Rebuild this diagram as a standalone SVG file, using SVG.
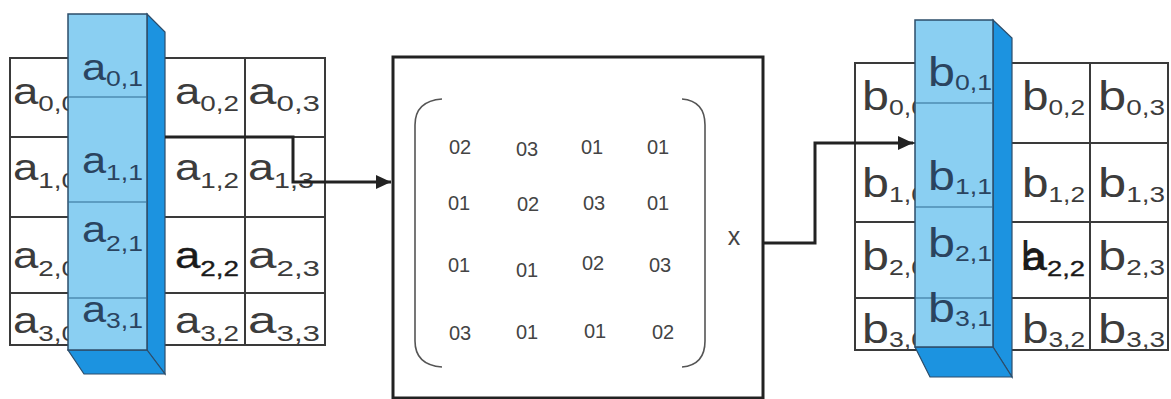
<svg xmlns="http://www.w3.org/2000/svg" width="1171" height="399" viewBox="0 0 1171 399">
<style>
.grid{fill:none;stroke:#3a3a3a;stroke-width:2}
.lbl{font-family:"Liberation Sans",Arial,sans-serif;font-size:36px;fill:#3c3c3c}
.lblb{font-family:"Liberation Sans",Arial,sans-serif;font-size:40px;fill:#3c3c3c}
.bar{fill:#2a4460}
.sub{font-size:22px}
.front{fill:#8ACFF2;stroke:#2d4d6a;stroke-width:1.5}
.face{fill:#1C93E0;stroke:#2d4d6a;stroke-width:1.2}
.div{stroke:#2f6d92;stroke-width:1.2}
.num{font-family:"Liberation Sans",Arial,sans-serif;font-size:20px;fill:#444;text-anchor:middle}
.conn{fill:none;stroke:#222;stroke-width:3}
.brk{fill:none;stroke:#555;stroke-width:1.6}
</style>
<defs>
<marker id="ah" markerUnits="userSpaceOnUse" markerWidth="16" markerHeight="16" refX="15" refY="8" orient="auto">
<path d="M0,1 L15,8 L0,15 z" fill="#222"/>
</marker>
</defs>
<rect width="1171" height="399" fill="#fff"/>

<g id="matrixA">
<rect class="grid" x="10" y="58" width="315" height="287"/>
<path class="grid" d="M10,137H325M10,217H325M10,293H325M245,58V345"/>
<text class="lbl" x="13" y="104" textLength="64" lengthAdjust="spacingAndGlyphs">a<tspan class="sub" dy="7">0,0</tspan></text>
<text class="lbl" x="175" y="104" textLength="64" lengthAdjust="spacingAndGlyphs">a<tspan class="sub" dy="7">0,2</tspan></text>
<text class="lbl" x="248" y="104" textLength="72" lengthAdjust="spacingAndGlyphs">a<tspan class="sub" dy="7">0,3</tspan></text>
<text class="lbl" x="13" y="180" textLength="64" lengthAdjust="spacingAndGlyphs">a<tspan class="sub" dy="8">1,0</tspan></text>
<text class="lbl" x="175" y="180" textLength="64" lengthAdjust="spacingAndGlyphs">a<tspan class="sub" dy="8">1,2</tspan></text>
<text class="lbl" x="248" y="180" textLength="66" lengthAdjust="spacingAndGlyphs">a<tspan class="sub" dy="8">1,3</tspan></text>
<text class="lbl" x="13" y="268" textLength="64" lengthAdjust="spacingAndGlyphs">a<tspan class="sub" dy="8">2,0</tspan></text>
<text class="lbl" x="175" y="268" textLength="64" lengthAdjust="spacingAndGlyphs" style="fill:#1a1a1a;stroke:#1a1a1a;stroke-width:0.35">a<tspan class="sub" dy="8">2,2</tspan></text>
<text class="lbl" x="248" y="268" textLength="72" lengthAdjust="spacingAndGlyphs">a<tspan class="sub" dy="8">2,3</tspan></text>
<text class="lbl" x="13" y="333" textLength="64" lengthAdjust="spacingAndGlyphs">a<tspan class="sub" dy="8">3,0</tspan></text>
<text class="lbl" x="175" y="333" textLength="64" lengthAdjust="spacingAndGlyphs">a<tspan class="sub" dy="8">3,2</tspan></text>
<text class="lbl" x="248" y="333" textLength="72" lengthAdjust="spacingAndGlyphs">a<tspan class="sub" dy="8">3,3</tspan></text>
</g>

<g id="columnA">
<polygon class="face" points="147,14 165,32 165,374 147,350"/>
<polygon class="face" points="68,350 147,350 165,374 84,374"/>
<rect class="front" x="68" y="14" width="79" height="336"/>
<path class="div" d="M68,97H147M68,202H147M68,298H147"/>
<text class="lbl bar" x="82" y="80" textLength="61" lengthAdjust="spacingAndGlyphs">a<tspan class="sub" dy="6">0,1</tspan></text>
<text class="lbl bar" x="82" y="173" textLength="61" lengthAdjust="spacingAndGlyphs">a<tspan class="sub" dy="7">1,1</tspan></text>
<text class="lbl bar" x="82" y="242" textLength="61" lengthAdjust="spacingAndGlyphs">a<tspan class="sub" dy="9">2,1</tspan></text>
<text class="lbl bar" x="82" y="322" textLength="61" lengthAdjust="spacingAndGlyphs">a<tspan class="sub" dy="6">3,1</tspan></text>
</g>

<g id="mixColumns">
<rect x="393" y="57" width="370" height="341" fill="#fff" stroke="#222" stroke-width="3"/>
<path class="brk" d="M442,99 Q415,101 415,125 L415,341 Q415,365 442,367"/>
<path class="brk" d="M682,99 Q705,101 705,125 L705,341 Q705,365 682,367"/>
<text class="num" x="460" y="154">02</text>
<text class="num" x="527" y="156">03</text>
<text class="num" x="592" y="154">01</text>
<text class="num" x="658" y="154">01</text>
<text class="num" x="459" y="210">01</text>
<text class="num" x="528" y="211">02</text>
<text class="num" x="594" y="210">03</text>
<text class="num" x="658" y="210">01</text>
<text class="num" x="459" y="272">01</text>
<text class="num" x="527" y="277">01</text>
<text class="num" x="593" y="270">02</text>
<text class="num" x="660" y="272">03</text>
<text class="num" x="460" y="340">03</text>
<text class="num" x="527" y="339">01</text>
<text class="num" x="595" y="338">01</text>
<text class="num" x="663" y="339">02</text>
<text class="num" x="734" y="245" style="font-size:25px">x</text>
</g>

<g id="matrixB">
<rect class="grid" x="855" y="63" width="313" height="287"/>
<path class="grid" d="M855,143H1168M855,222H1168M855,298H1168M1090,63V350"/>
<text class="lblb" x="862" y="110" textLength="64" lengthAdjust="spacingAndGlyphs">b<tspan class="sub" dy="5">0,0</tspan></text>
<text class="lblb" x="1022" y="110" textLength="63" lengthAdjust="spacingAndGlyphs">b<tspan class="sub" dy="5">0,2</tspan></text>
<text class="lblb" x="1098" y="110" textLength="67" lengthAdjust="spacingAndGlyphs">b<tspan class="sub" dy="5">0,3</tspan></text>
<text class="lblb" x="862" y="197" textLength="64" lengthAdjust="spacingAndGlyphs">b<tspan class="sub" dy="5">1,0</tspan></text>
<text class="lblb" x="1022" y="197" textLength="63" lengthAdjust="spacingAndGlyphs">b<tspan class="sub" dy="5">1,2</tspan></text>
<text class="lblb" x="1098" y="197" textLength="67" lengthAdjust="spacingAndGlyphs">b<tspan class="sub" dy="5">1,3</tspan></text>
<text class="lblb" x="862" y="270" textLength="64" lengthAdjust="spacingAndGlyphs">b<tspan class="sub" dy="5">2,0</tspan></text>
<text class="lblb" x="1021" y="270" style="fill:#222">b</text>
<text class="lbl" x="1022" y="270" textLength="63" lengthAdjust="spacingAndGlyphs" style="fill:#1a1a1a;stroke:#1a1a1a;stroke-width:0.35">a<tspan class="sub" dy="6">2,2</tspan></text>
<text class="lblb" x="1098" y="270" textLength="67" lengthAdjust="spacingAndGlyphs">b<tspan class="sub" dy="5">2,3</tspan></text>
<text class="lblb" x="862" y="343" textLength="64" lengthAdjust="spacingAndGlyphs">b<tspan class="sub" dy="4">3,0</tspan></text>
<text class="lblb" x="1022" y="343" textLength="63" lengthAdjust="spacingAndGlyphs">b<tspan class="sub" dy="4">3,2</tspan></text>
<text class="lblb" x="1098" y="343" textLength="67" lengthAdjust="spacingAndGlyphs">b<tspan class="sub" dy="4">3,3</tspan></text>
</g>

<g id="columnB">
<polygon class="face" points="993,20 1012,38 1012,377 993,347"/>
<polygon class="face" points="915,347 993,347 1012,377 930,377"/>
<rect class="front" x="915" y="20" width="78" height="327"/>
<path class="div" d="M915,103H993M915,207H993M915,298H993"/>
<text class="lblb bar" x="928" y="86" textLength="64" lengthAdjust="spacingAndGlyphs">b<tspan class="sub" dy="4">0,1</tspan></text>
<text class="lblb bar" x="928" y="190" textLength="64" lengthAdjust="spacingAndGlyphs">b<tspan class="sub" dy="4">1,1</tspan></text>
<text class="lblb bar" x="928" y="257" textLength="64" lengthAdjust="spacingAndGlyphs">b<tspan class="sub" dy="4">2,1</tspan></text>
<text class="lblb bar" x="928" y="322" textLength="64" lengthAdjust="spacingAndGlyphs">b<tspan class="sub" dy="4">3,1</tspan></text>
</g>

<g id="connectors">
<path class="conn" d="M165,137 H293 V182 H391" marker-end="url(#ah)"/>
<path class="conn" d="M763,243 H815 V143 H913" marker-end="url(#ah)"/>
</g>
</svg>
